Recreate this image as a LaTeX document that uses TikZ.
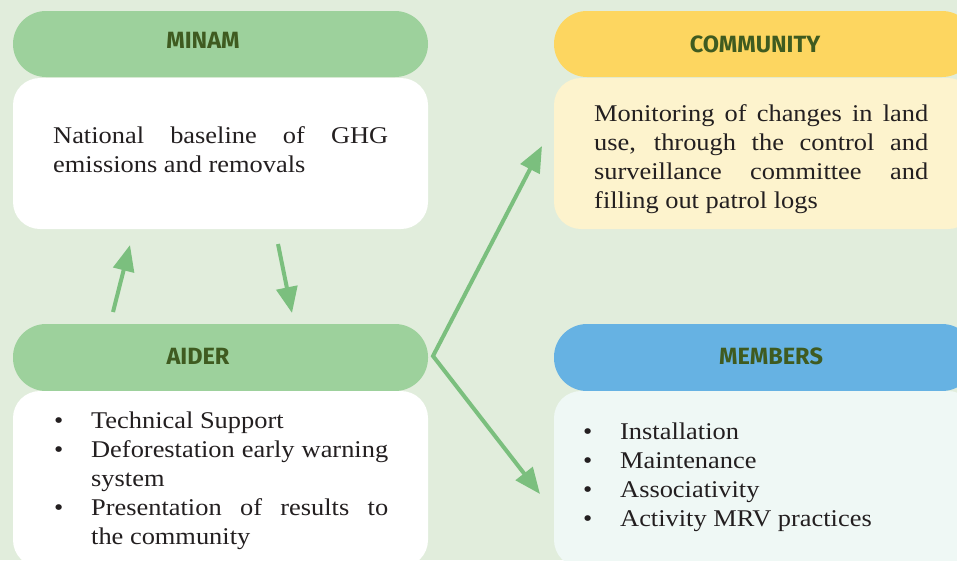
\documentclass[tikz,border=0pt]{standalone}
\usepackage{fontspec}
\setmainfont{Liberation Serif}[FakeStretch=1.1]
\newfontfamily\hdrfont{Fira Sans}
\usetikzlibrary{arrows.meta}
\definecolor{bgc}{HTML}{E1EDDC}
\definecolor{hgreen}{HTML}{9DD19C}
\definecolor{arrc}{HTML}{7BBF7E}
\definecolor{hyellow}{HTML}{FDD660}
\definecolor{lyellow}{HTML}{FDF3CD}
\definecolor{hblue}{HTML}{66B2E3}
\definecolor{lmint}{HTML}{EFF8F5}
\definecolor{dgreen}{HTML}{3F5B20}
\definecolor{txtc}{HTML}{231F20}
\newcommand{\bitem}[1]{\hangindent=37pt\hangafter=1\makebox[37pt][l]{\textbullet}#1\par}
\tikzset{
  hdrbox/.style={rectangle, rounded corners=33pt, inner sep=0pt, draw=none},
  bodybox/.style={rectangle, rounded corners=27pt, inner sep=0pt, draw=none},
  hdrtxt/.style={anchor=base, inner sep=0pt, text=dgreen, font=\hdrfont\bfseries\fontsize{23.5}{27}\selectfont},
  bodytxt/.style={anchor=base west, inner sep=0pt, text=txtc, align=justify, font=\fontsize{24}{29}\selectfont},
  arr/.style={draw=arrc, line width=4pt, -{Triangle[length=26pt,width=21pt]}},
  arrboth/.style={draw=arrc, line width=4pt, {Triangle[length=26pt,width=21pt]}-{Triangle[length=26pt,width=21pt]}}
}
\begin{document}
\begin{tikzpicture}[x=1pt,y=-1pt]
\useasboundingbox (0,0) rectangle (957,560);
\fill[bgc] (0,0) rectangle (957,560);
% MINAM
\node[hdrbox, fill=hgreen, minimum width=415pt, minimum height=66pt] (minamH) at (220.5,44) {};
\node[bodybox, fill=white, minimum width=415pt, minimum height=151pt] (minamB) at (220.5,153.5) {};
\node[hdrtxt] (minamL) at (203,48) {MINAM};
\node[bodytxt, text width=335pt] (minamT) at (53,143) {National baseline of GHG\linebreak emissions and removals};
% COMMUNITY
\node[hdrbox, fill=hyellow, minimum width=421pt, minimum height=66pt] (commH) at (764.5,44) {};
\node[bodybox, fill=lyellow, minimum width=421pt, minimum height=151pt] (commB) at (764.5,153.5) {};
\node[hdrtxt] (commL) at (755,52) {COMMUNITY};
\node[bodytxt, text width=334pt] (commT) at (594,121) {Monitoring of changes in land\linebreak use, through the control and\linebreak surveillance committee and\linebreak filling out patrol logs};
% AIDER
\node[hdrbox, fill=hgreen, minimum width=415pt, minimum height=67pt] (aiderH) at (220.5,357.5) {};
\node[bodybox, fill=white, minimum width=415pt, minimum height=176pt] (aiderB) at (220.5,479) {};
\node[hdrtxt] (aiderL) at (198,364) {AIDER};
\node[bodytxt, text width=334pt] (aiderT) at (54,428) {\bitem{Technical Support}\bitem{Deforestation early warning system}\bitem{Presentation of results to\linebreak the community}};
% MEMBERS
\node[hdrbox, fill=hblue, minimum width=421pt, minimum height=67pt] (memH) at (764.5,357.5) {};
\node[bodybox, fill=lmint, minimum width=421pt, minimum height=176pt] (memB) at (764.5,479) {};
\node[hdrtxt] (memL) at (771,364) {MEMBERS};
\node[bodytxt, text width=340pt] (memT) at (583,439) {\bitem{Installation}\bitem{Maintenance}\bitem{Associativity}\bitem{Activity MRV practices}};
% arrows
\coordinate (upS) at (113,312);
\coordinate (upE) at (130,245);
\coordinate (dnS) at (278,244);
\coordinate (dnE) at (292,313);
\coordinate (brV) at (433,356);
\coordinate (brC) at (542,146);
\coordinate (brM) at (540,494);
\draw[arr] (upS) -- (upE);
\draw[arr] (dnS) -- (dnE);
\draw[arrboth] (brC) -- (brV) -- (brM);
\end{tikzpicture}
\end{document}
